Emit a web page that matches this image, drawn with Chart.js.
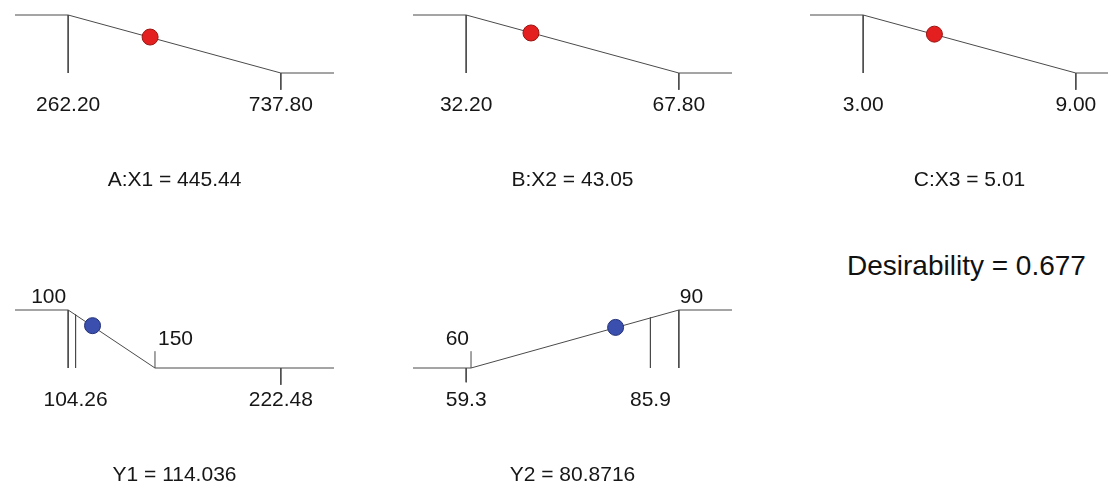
<!DOCTYPE html>
<html>
<head>
<meta charset="utf-8">
<script src="https://cdn.jsdelivr.net/npm/chart.js@4/dist/chart.umd.min.js"></script>
<style>
  html, body { margin: 0; padding: 0; background: #fff; }
  #lienzo { position: relative; width: 1108px; height: 481px; overflow: hidden; }
  .panel { position: absolute; }
  #deseabilidad {
    position: absolute; left: 847px; top: 252px;
    font: 28px "Liberation Sans", Arial, sans-serif; line-height: 28px; color: #111;
    white-space: nowrap;
  }
</style>
</head>
<body>
<div id="lienzo">
  <div id="deseabilidad"></div>
</div>
<script>
// Factores (rampas de rango)
const factorNombres = ['A:X1', 'B:X2', 'C:X3'];
const factorBajo = [262.20, 32.20, 3.00];
const factorAlto = [737.80, 67.80, 9.00];
const factorValor = [445.44, 43.05, 5.01];
const factorD = [0.62, 0.69, 0.67];   // altura del punto sobre la rampa

// Respuestas
const respNombres = ['Y1', 'Y2'];
const respMeta = ['min', 'max'];
const respLimInf = [100, 60];
const respLimSup = [150, 90];
const respObsMin = [104.26, 59.3];
const respObsMax = [222.48, 85.9];
const respObsD = [0.92, 0.87];        // donde la linea del valor observado toca la rampa
const respValor = [114.036, 80.8716];
const respD = [0.73, 0.70];

const deseabilidadTotal = 0.677;

// estilos
const LINEA = '#4a4a4a';
const TICK = 0.29;
const FUENTE = '"Liberation Sans", Arial, sans-serif';
const COLUMNAS = [0, 398, 795];

document.getElementById('deseabilidad').textContent = 'Desirability = ' + deseabilidadTotal;

// plugin para textos
const etiquetas = {
    id: 'etiquetas',
    afterDatasetsDraw(chart, args, opts) {
        const { ctx, chartArea, scales: { x, y } } = chart;
        ctx.save();
        ctx.fillStyle = '#161616';
        ctx.font = '21px ' + FUENTE;
        ctx.textBaseline = 'alphabetic';
        (opts.items || []).forEach(it => {
            ctx.textAlign = it.align;
            ctx.fillText(it.text, x.getPixelForValue(it.x) + (it.dx || 0), y.getPixelForValue(it.y) + it.dy);
        });
        ctx.textAlign = 'center';
        ctx.fillText(opts.titulo, (chartArea.left + chartArea.right) / 2, y.getPixelForValue(0) + 113);
        ctx.restore();
    }
};

function segmento(x1, y1, x2, y2) {
    return {
        data: [{ x: x1, y: y1 }, { x: x2, y: y2 }],
        showLine: true, borderColor: LINEA, borderWidth: 1,
        pointRadius: 0, clip: false, order: 2
    };
}

function punto(v, d, relleno, borde) {
    return {
        data: [{ x: v, y: d }], showLine: false,
        pointRadius: 8, pointHoverRadius: 8,
        backgroundColor: relleno, borderColor: borde, borderWidth: 1,
        clip: false, order: 0
    };
}

// arriba = borde superior del canvas, margen = distancia hasta la linea d=1
function crearPanel(izq, arriba, margen, alto, xmin, xmax, datasets, items, titulo) {
    const div = document.createElement('div');
    div.className = 'panel';
    div.style.left = izq + 'px';
    div.style.top = arriba + 'px';
    const canvas = document.createElement('canvas');
    canvas.width = 370; canvas.height = alto;
    canvas.style.width = '370px'; canvas.style.height = alto + 'px';
    div.appendChild(canvas);
    document.getElementById('lienzo').appendChild(div);

    const extra = (xmax - xmin) * 0.25;
    new Chart(canvas.getContext('2d'), {
        type: 'scatter',
        data: { datasets: datasets },
        options: {
            responsive: false,
            animation: false,
            events: [],
            layout: { padding: { left: 15, right: 370 - 15 - 319, top: margen, bottom: alto - margen - 58 } },
            scales: {
                x: { type: 'linear', display: false, min: xmin - extra, max: xmax + extra },
                y: { type: 'linear', display: false, min: 0, max: 1 }
            },
            plugins: {
                legend: { display: false },
                tooltip: { enabled: false },
                etiquetas: { items: items, titulo: titulo }
            }
        },
        plugins: [etiquetas]
    });
}

// 1. paneles de factores
factorNombres.forEach((nombre, i) => {
    const lo = factorBajo[i], hi = factorAlto[i];
    const extra = (hi - lo) * 0.25;
    const ds = [
        segmento(lo - extra, 1, lo, 1),
        segmento(lo, 1, lo, 0),
        segmento(lo, 1, hi, 0),
        segmento(hi, 0, hi, -TICK),
        segmento(hi, 0, hi + extra, 0),
        punto(factorValor[i], factorD[i], '#e3201f', '#9a1512')
    ];
    const items = [
        { text: lo.toFixed(2), x: lo, y: 0, dy: 38, align: 'center' },
        { text: hi.toFixed(2), x: hi, y: 0, dy: 38, align: 'center' }
    ];
    crearPanel(COLUMNAS[i], 0, 15, 200, lo, hi, ds, items, nombre + ' = ' + factorValor[i].toFixed(2));
});

// 2. paneles de respuestas
respNombres.forEach((nombre, i) => {
    const li = respLimInf[i], ls = respLimSup[i];
    const omin = respObsMin[i], omax = respObsMax[i];
    const xmin = Math.min(li, omin), xmax = Math.max(ls, omax);
    const extra = (xmax - xmin) * 0.25;
    const ds = [];
    const items = [];
    if (respMeta[i] === 'min') {
        ds.push(segmento(xmin - extra, 1, li, 1));
        ds.push(segmento(li, 1, ls, 0));
        ds.push(segmento(ls, 0, xmax + extra, 0));
        ds.push(segmento(li, 1, li, 0));
        ds.push(segmento(ls, 0, ls, TICK));
        ds.push(segmento(omin, respObsD[i], omin, 0));
        ds.push(segmento(omax, 0, omax, -TICK));
        items.push({ text: String(li), x: li, y: 1, dx: -2, dy: -7, align: 'right' });
        items.push({ text: String(ls), x: ls, y: 0, dx: 3, dy: -23, align: 'left' });
    } else {
        ds.push(segmento(xmin - extra, 0, li, 0));
        ds.push(segmento(li, 0, ls, 1));
        ds.push(segmento(ls, 1, xmax + extra, 1));
        ds.push(segmento(ls, 1, ls, 0));
        ds.push(segmento(li, 0, li, TICK));
        ds.push(segmento(omin, 0, omin, -TICK * 0.85));
        ds.push(segmento(omax, respObsD[i], omax, 0));
        items.push({ text: String(li), x: li, y: 0, dx: -2, dy: -23, align: 'right' });
        items.push({ text: String(ls), x: ls, y: 1, dx: 1, dy: -7, align: 'left' });
    }
    items.push({ text: String(omin), x: omin, y: 0, dy: 38, align: 'center' });
    items.push({ text: String(omax), x: omax, y: 0, dy: 38, align: 'center' });
    ds.push(punto(respValor[i], respD[i], '#3a4fae', '#243177'));
    crearPanel(COLUMNAS[i], 250, 60, 240, xmin, xmax, ds, items, nombre + ' = ' + respValor[i]);
});
</script>
</body>
</html>
